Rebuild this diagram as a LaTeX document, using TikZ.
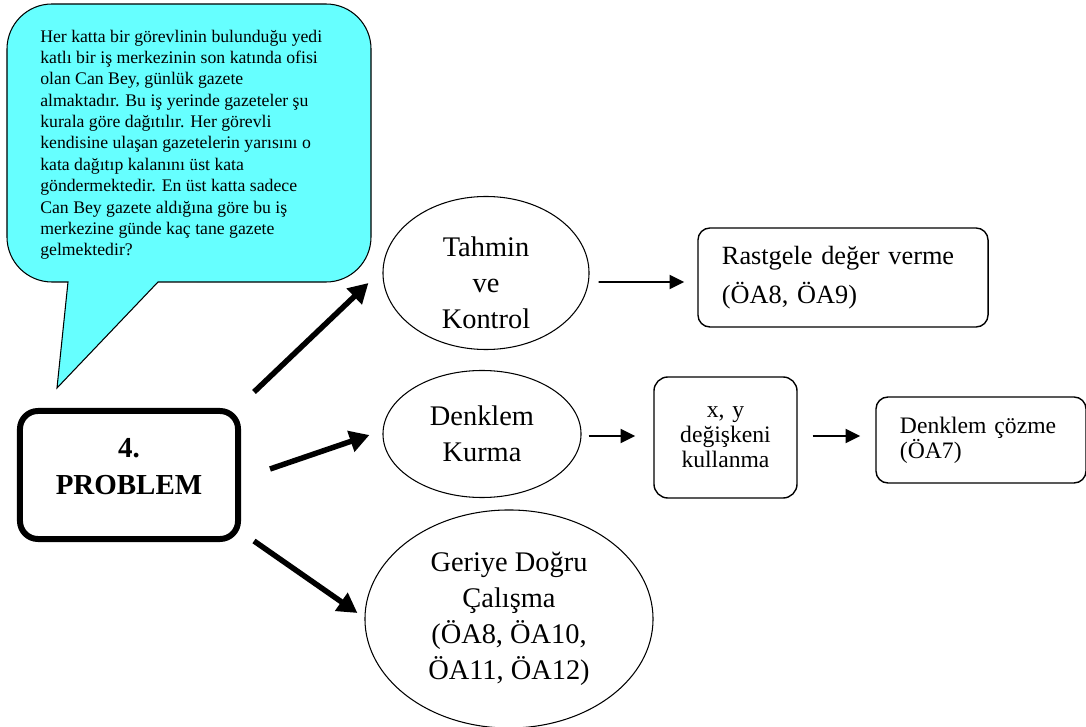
\documentclass[tikz,border=0pt]{standalone}
\usepackage{fontspec}
\setmainfont{Liberation Serif}
\usetikzlibrary{arrows.meta,positioning,calc,shapes.geometric}
\definecolor{bubblecyan}{RGB}{102,255,255}
\newcommand{\txtstory}{\fontsize{12.6}{15.2}\selectfont}
\newcommand{\txtbig}{\fontsize{20.2}{25.5}\selectfont}
\newcommand{\txtmid}{\fontsize{18.7}{27.6}\selectfont}
\newcommand{\txtsmall}{\fontsize{16.8}{17.7}\selectfont}
\newcommand{\txtprob}{\fontsize{20.6}{26}\selectfont\bfseries}
\tikzset{
  oval/.style     = {draw, ellipse, line width=0.75pt, inner sep=0pt,
                     align=center, font=\txtbig},
  rbox/.style     = {draw, rectangle, rounded corners=0.3cm, line width=1pt,
                     inner xsep=0.6cm, inner ysep=0pt, align=left},
  probbox/.style  = {draw, rectangle, rounded corners=0.45cm, line width=4.25pt,
                     minimum width=5.45cm, minimum height=3.2cm},
  arrsmall/.style = {-{Triangle[length=10.5pt,width=10pt]}, line width=1.4pt},
  arrbig/.style   = {-{Triangle[length=14pt,width=15pt]}, line width=3.9pt},
}

\begin{document}
\begin{tikzpicture}[x=0.025cm, y=-0.025cm]
\useasboundingbox (0,0) rectangle (1086,727);
% ---- speech bubble ----
\draw[fill=bubblecyan, line width=0.75pt]
  (52,4) -- (326,4) arc (90:0:1.125cm) -- (371,237) arc (0:-90:1.125cm)
  -- (158,282) -- (57,388) -- (68,282) -- (52,282) arc (270:180:1.125cm)
  -- (7,49) arc (180:90:1.125cm) -- cycle;
\node[anchor=north west, inner sep=0pt, align=left, font=\txtstory] (story) at (40,29.5)
  {Her katta bir görevlinin bulunduğu yedi\\
   katlı bir iş merkezinin son katında ofisi\\
   olan Can Bey, günlük gazete\\
   almaktadır. Bu iş yerinde gazeteler şu\\
   kurala göre dağıtılır. Her görevli\\
   kendisine ulaşan gazetelerin yarısını o\\
   kata dağıtıp kalanını üst kata\\
   göndermektedir. En üst katta sadece\\
   Can Bey gazete aldığına göre bu iş\\
   merkezine günde kaç tane gazete\\
   gelmektedir?};
% ---- problem ----
\node[probbox] (prob) at (129,475) {};
\node[font=\txtprob, align=center] (probtxt) at ($(prob)+(0,-8.5)$) {4.\\PROBLEM};
% ---- strategies ----
\node[oval, minimum width=5.15cm, minimum height=3.825cm] (tahmin) at (486,273) {};
\node[font=\txtbig, align=center] (tahmintxt) at ($(tahmin)+(0,9.5)$) {Tahmin\\ve\\Kontrol};
\node[oval, minimum width=4.95cm, minimum height=3.175cm] (denklem) at (482,434) {Denklem\\Kurma};
\node[oval, minimum width=7.2cm, minimum height=5.45cm] (geriye) at (509,619)
  {Geriye Doğru\\Çalışma\\(ÖA8, ÖA10,\\ÖA11, ÖA12)};
% ---- outcomes ----
\node[rbox, text width=6.05cm, minimum height=2.475cm, font=\txtmid] (rastgele) at (843,277.5)
  {Rastgele değer verme\\(ÖA8, ÖA9)};
\node[rbox, rounded corners=0.35cm, inner xsep=0pt, align=center, text width=3.575cm,
      minimum height=3.025cm, font=\txtsmall] (degisken) at (725.5,437.5)
  {x, y\\değişkeni\\kullanma};
\node[rbox, text width=4.05cm, minimum height=2.15cm, font=\txtsmall] (cozme) at (981,440)
  {Denklem çözme\\(ÖA7)};
% ---- arrows ----
\draw[arrbig] ($(prob.north east)+(13,-16)$) -- ($(tahmin.west)+(-14,10)$);
\draw[arrbig] ($(prob.east)+(29,-6)$) -- ($(denklem.west)+(-13,1)$);
\draw[arrbig] ($(prob.south east)+(13,-1)$) -- ($(geriye.west)+(-7,-6)$);
\draw[arrsmall] ($(tahmin.east)+(9,9)$) -- ($(rastgele.west)+(-13,4.5)$);
\draw[arrsmall] ($(denklem.east)+(7,2)$) -- ($(degisken.west)+(-18,-1.5)$);
\draw[arrsmall] ($(degisken.east)+(15,-1.5)$) -- ($(cozme.west)+(-15,-4)$);
\end{tikzpicture}
\end{document}
